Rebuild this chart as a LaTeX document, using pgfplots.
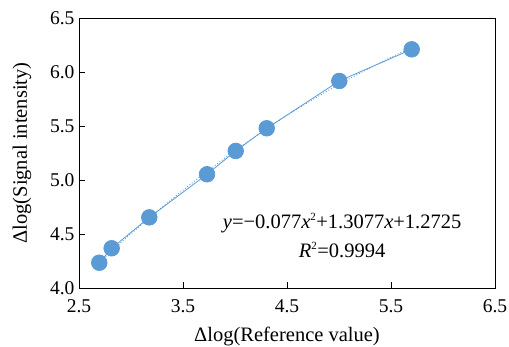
\documentclass[border=0pt]{standalone}
\usepackage{fontspec}
\setmainfont{Liberation Serif}
\usepackage{pgfplots}
\pgfplotsset{compat=1.18}
\definecolor{ptblue}{RGB}{91,155,213}
\begin{document}
\begin{tikzpicture}
\begin{axis}[
  scale only axis,
  width=416pt, height=270pt,
  xmin=2.5, xmax=6.5, ymin=4.0, ymax=6.5,
  xtick={2.5,3.5,4.5,5.5,6.5},
  ytick={4.0,4.5,5.0,5.5,6.0,6.5},
  tick align=inside,
  major tick length=6pt,
  tick style={black, line width=0.6pt},
  axis line style={black, line width=0.6pt},
  xtick pos=bottom, ytick pos=left,
  /pgf/number format/assume math mode=true,
  xticklabel style={/pgf/number format/.cd, fixed, fixed zerofill, precision=1},
  yticklabel style={/pgf/number format/.cd, fixed, fixed zerofill, precision=1},
  ticklabel style={font=\fontsize{19.5}{22}\selectfont},
  label style={font=\fontsize{20.5}{23}\selectfont},
  xlabel={Δlog(Reference value)},
  ylabel={Δlog(Signal intensity)},
  xlabel style={at={(axis description cs:0.5,-0.178)}, anchor=center},
  ylabel style={at={(axis description cs:-0.137,0.5)}, anchor=center},
  xticklabel shift=8pt,
  yticklabel shift=1pt,
  clip=false,
]
% dotted polynomial trendline (values of the displayed fit)
\addplot[ptblue, dotted, line width=0.9pt, smooth] coordinates {
(2.695,4.2375) (3.0,4.5026) (3.5,4.9062) (4.0,5.2713) (4.5,5.5979) (5.0,5.8860) (5.5,6.1356) (5.699,6.2243)};
% data
\addplot[ptblue, line width=0.8pt, mark=*, mark size=7.8pt, mark options={fill=ptblue, draw=ptblue}] coordinates {
(2.695,4.234) (2.814,4.368) (3.176,4.654) (3.731,5.053) (4.007,5.269) (4.305,5.479) (5.003,5.917) (5.699,6.210)};
\node[font=\fontsize{20.5}{23}\selectfont, anchor=center] at (axis cs:5.03,4.60) {{\itshape y}=−0.077{\itshape x}\textsuperscript{\fontsize{11}{12}\selectfont 2}+1.3077{\itshape x}+1.2725};
\node[font=\fontsize{20.5}{23}\selectfont, anchor=center] at (axis cs:5.03,4.35) {{\itshape R}\textsuperscript{\fontsize{11}{12}\selectfont 2}=0.9994};
\end{axis}
\pgfresetboundingbox
\useasboundingbox ([shift={(-79pt,-59pt)}]current axis.south west) rectangle ([shift={(14pt,18pt)}]current axis.north east);
\end{tikzpicture}
\end{document}
